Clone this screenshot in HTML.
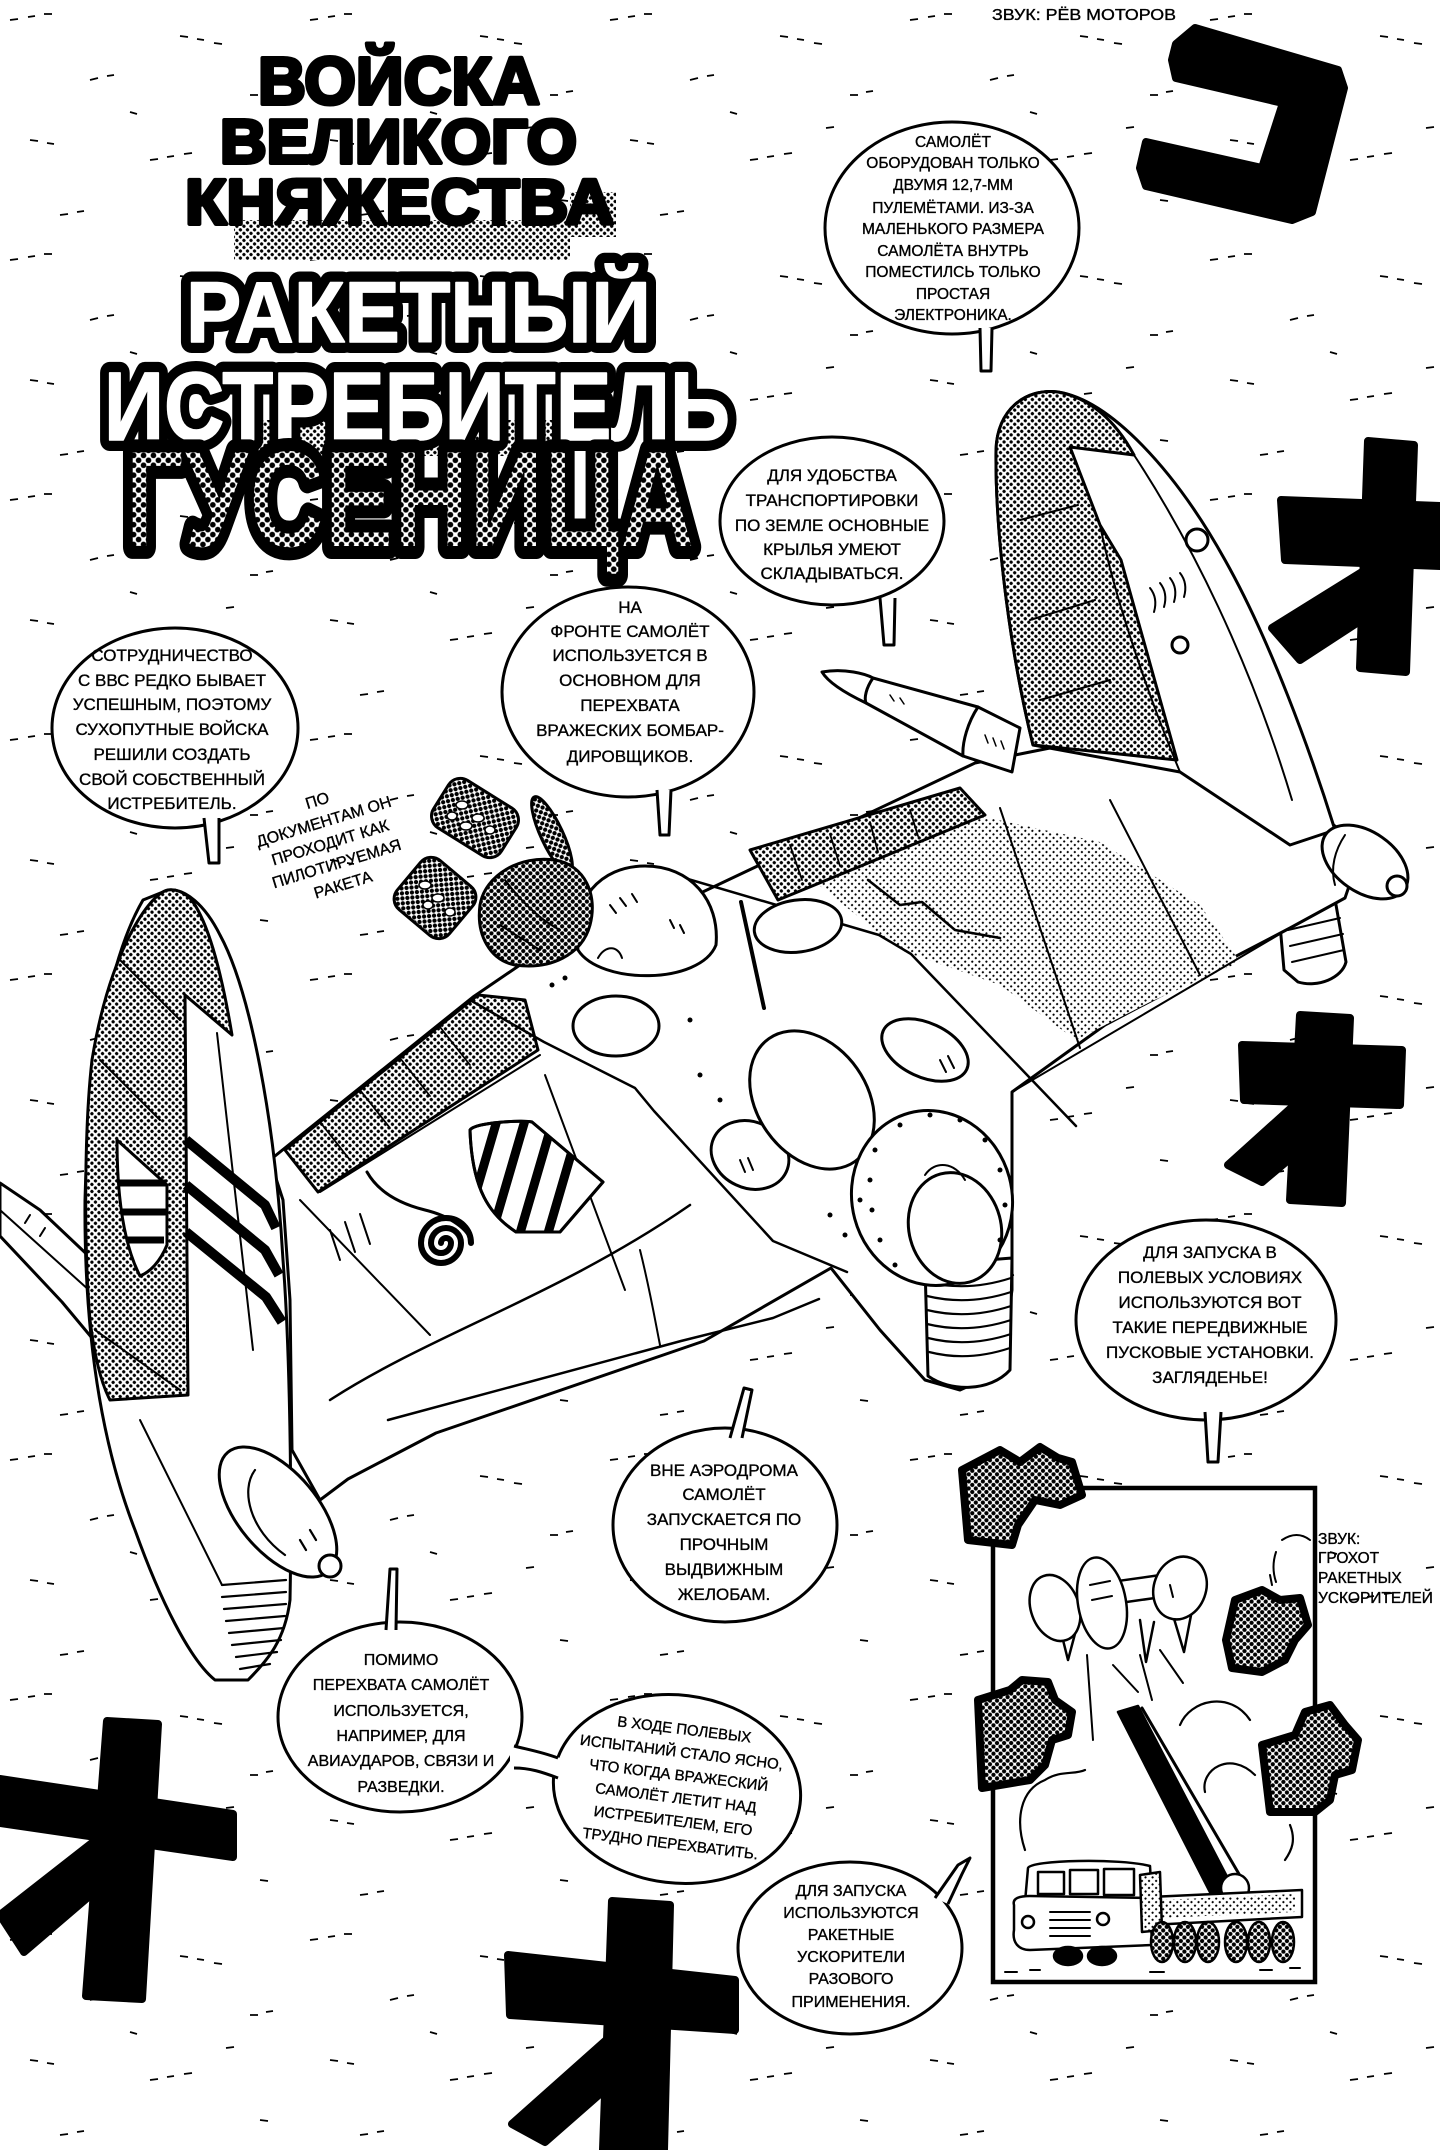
<!DOCTYPE html>
<html><head><meta charset="utf-8">
<style>
html,body{margin:0;padding:0;background:#fff}
body{width:1440px;height:2150px;overflow:hidden}
svg{display:block}
.b{font-family:"Liberation Sans","DejaVu Sans",sans-serif;font-size:17px;fill:#000;text-anchor:middle;stroke:#000;stroke-width:0.35px}
.t{font-family:"Liberation Sans","DejaVu Sans",sans-serif;font-weight:bold}
</style></head><body>
<svg width="1440" height="2150" viewBox="0 0 1440 2150" xmlns="http://www.w3.org/2000/svg">
<defs>
<pattern id="ht" width="5" height="5" patternUnits="userSpaceOnUse" patternTransform="rotate(45)"><rect width="5" height="5" fill="#fff"/><circle cx="2.5" cy="2.5" r="1.65" fill="#000"/></pattern>
<pattern id="htd" width="5" height="5" patternUnits="userSpaceOnUse" patternTransform="rotate(45)"><rect width="5" height="5" fill="#fff"/><circle cx="2.5" cy="2.5" r="2.15" fill="#000"/></pattern>
<pattern id="htl" width="5" height="5" patternUnits="userSpaceOnUse" patternTransform="rotate(45)"><rect width="5" height="5" fill="#fff"/><circle cx="2.5" cy="2.5" r="1.1" fill="#000"/></pattern>
<pattern id="htg" width="7" height="7" patternUnits="userSpaceOnUse" patternTransform="rotate(45)"><rect width="7" height="7" fill="#fff"/><circle cx="3.5" cy="3.5" r="2.85" fill="#000"/></pattern>
<pattern id="wind" width="300" height="240" patternUnits="userSpaceOnUse">
<path d="M10 20l8-1M28 17l7-1M44 14l8 0M180 36l8 1M197 39l7 1M214 43l8 1M90 80l8-2M107 76l7-1M250 95l8 0M266 92l7-1M30 140l8 1M47 143l7 1M150 160l8-1M167 157l7-1M184 154l8-1M260 200l8 1M60 215l8-1M77 212l7-1M130 112l7 2M226 128l8-1" stroke="#000" stroke-width="1.8" fill="none"/>
</pattern>
<clipPath id="shieldclip"><path d="M470,1130 C475,1122 525,1120 532,1122 L603,1182 L560,1232 L516,1232 C490,1215 472,1190 470,1130 Z"/></clipPath>
</defs>

<rect width="1440" height="2150" fill="#fff"/>
<rect width="1440" height="2150" fill="url(#wind)"/>

<!-- black katakana symbols -->
<g fill="#000" stroke="#000" stroke-width="8" stroke-linejoin="round">
<polygon points="1176,44 1195,28 1338,70 1344,88 1312,212 1292,220 1146,186 1140,168 1146,142 1262,168 1283,103 1176,78 1172,60"/>
<polygon points="1281,500 1440,506 1440,566 1285,560"/>
<polygon points="1368,441 1414,445 1406,672 1360,668"/>
<polygon points="1362,572 1392,600 1300,660 1272,628"/>
<polygon points="1300,1015 1350,1018 1342,1203 1290,1200"/>
<polygon points="1242,1045 1402,1050 1400,1105 1244,1100"/>
<polygon points="1300,1100 1330,1125 1262,1182 1228,1165"/>
<polygon points="107,1721 158,1724 142,1999 86,1996"/>
<polygon points="0,1779 233,1814 233,1857 0,1823"/>
<polygon points="92,1843 108,1880 24,1952 0,1915"/>
<polygon points="612,1901 670,1905 664,2150 603,2150"/>
<polygon points="508,1955 735,1980 735,2030 510,2015"/>
<polygon points="612,2035 618,2078 545,2142 512,2124"/>
</g>

<!-- PLANE -->
<g stroke="#000" stroke-width="3" stroke-linejoin="round" stroke-linecap="round" fill="#fff">
<path d="M1278,902 L1332,882 L1346,962 C1342,978 1318,988 1298,982 L1284,970 Z"/>
<path d="M1288,930 l52,-12 M1290,946 l53,-12 M1292,962 l52,-12" fill="none" stroke-width="2"/>
<!-- main silhouette -->
<path d="M270,1160 L473,997 L520,965 L580,935 L690,898 L975,763 L1080,742 L1180,770 L1330,822 L1362,848 L1345,898 L1290,928 L1200,975 L1105,1025 L1012,1092 L1012,1290 L1000,1372 L960,1390 L925,1380 L880,1330 L831,1268 L704,1341 L436,1433 L348,1479 L320,1500 L292,1450 L290,1300 L283,1200 Z"/>
<path fill="url(#htl)" stroke="none" d="M815,882 L975,815 L1100,842 L1200,905 L1240,962 L1150,1002 L1076,1040 L1000,985 L900,950 Z"/>
<!-- missile -->
<path d="M822,672 C845,668 866,674 873,678 L978,707 L1020,728 L1012,772 L963,756 L866,703 C845,693 828,682 822,672 Z"/>
<path d="M873,678 C866,688 864,698 866,703 M978,707 C968,722 962,742 963,756" fill="none"/>
<path d="M890,695 l4,6 M900,698 l4,6 M985,735 l3,8 M993,738 l3,8 M1001,741 l3,8" fill="none" stroke-width="1.5"/>
<!-- right folded wing -->
<path d="M1033,745 C1012,660 995,540 996,450 C997,410 1025,388 1058,392 C1110,400 1175,470 1225,560 C1270,640 1310,750 1335,830 L1290,845 L1180,772 Z"/>
<path fill="url(#ht)" d="M1033,745 C1012,660 995,540 996,450 C997,410 1025,388 1058,392 C1090,398 1115,420 1134,455 L1070,447 L1100,525 L1121,560 L1177,760 Z"/>
<path fill="none" stroke-width="2" d="M1134,455 C1190,540 1250,660 1292,800 M1100,525 C1115,600 1150,700 1180,772 M1020,520 L1078,505 M1030,620 L1095,600 M1040,700 L1110,680"/>
<path fill="none" stroke-width="2" d="M1150,588 q8,10 4,24 M1160,583 q8,10 4,24 M1170,578 q8,10 4,24 M1180,573 q8,10 4,24"/>
<circle cx="1197" cy="540" r="11"/>
<circle cx="1180" cy="645" r="8"/>
<ellipse cx="1365" cy="862" rx="48" ry="30" transform="rotate(35 1365 862)"/>
<circle cx="1397" cy="886" r="10"/>
<path d="M1345,835 C1335,850 1330,868 1335,885" fill="none" stroke-width="2"/>
<!-- flaps -->
<path fill="url(#ht)" d="M750,850 L960,788 L985,815 L778,900 Z"/>
<path fill="none" stroke-width="1.8" d="M790,845 l12,35 M830,834 l10,32 M870,822 l8,30 M910,810 l8,26"/>
<path fill="url(#ht)" d="M285,1150 L478,995 L525,1000 L538,1050 L318,1192 Z"/>
<path fill="none" stroke-width="1.8" d="M320,1122 l30,38 M360,1090 l30,38 M400,1058 l30,38 M440,1027 l30,38"/>
<!-- body lines -->
<path fill="none" stroke-width="2.5" d="M470,1000 L544,1042 L635,1088 L654,1111 L773,1241 L847,1272"/>
<path fill="none" stroke-width="2.5" d="M681,877 L879,935 L911,954 L1076,1126"/>
<path fill="none" stroke-width="2.5" d="M330,1400 C430,1335 560,1295 690,1205"/>
<path fill="none" stroke-width="2.5" d="M388,1420 L681,1341 L773,1318 L819,1299"/>
<path fill="none" stroke-width="2.5" d="M868,880 L900,905 L922,902 L955,930 L1000,938"/>
<path fill="none" stroke-width="2" d="M1000,808 L1080,1048 M1110,800 L1200,975 M1012,1092 L1290,928"/>
<path fill="none" stroke-width="2" d="M300,1200 L430,1335 M545,1075 L625,1290 M320,1192 L540,1055 M640,1250 C650,1290 655,1320 660,1345"/>
<path fill="none" stroke-width="4" d="M741,902 L764,1008"/>
<!-- inspection circles -->
<ellipse cx="798" cy="926" rx="44" ry="26" transform="rotate(-8 798 926)"/>
<ellipse cx="616" cy="1026" rx="43" ry="30"/>
<ellipse cx="925" cy="1050" rx="46" ry="27" transform="rotate(25 925 1050)"/>
<ellipse cx="750" cy="1155" rx="40" ry="33" transform="rotate(25 750 1155)"/>
<path fill="none" stroke-width="2" d="M940,1060 l6,12 M948,1056 l6,12 M740,1160 l5,12 M748,1158 l5,12"/>
<!-- cowl and nose -->
<ellipse cx="812" cy="1100" rx="55" ry="75" transform="rotate(-35 812 1100)"/>
<path d="M925,1265 L1012,1258 L1010,1370 C990,1392 950,1392 928,1376 Z"/>
<path fill="none" stroke-width="2.2" d="M927,1282 Q968,1292 1011,1278 M927,1296 Q968,1306 1011,1292 M927,1310 Q968,1320 1011,1306 M927,1324 Q968,1334 1011,1320 M928,1338 Q968,1348 1011,1334 M929,1352 Q968,1362 1010,1348"/>
<ellipse cx="932" cy="1198" rx="80" ry="88" transform="rotate(-15 932 1198)"/>
<ellipse cx="955" cy="1228" rx="46" ry="56" transform="rotate(-15 955 1228)"/>
<path fill="none" stroke-width="2" d="M925,1175 C935,1160 955,1162 965,1180"/>
<g fill="#000" stroke="none">
<circle cx="875" cy="1150" r="2.5"/><circle cx="870" cy="1180" r="2.5"/><circle cx="872" cy="1210" r="2.5"/><circle cx="880" cy="1240" r="2.5"/><circle cx="895" cy="1265" r="2.5"/><circle cx="900" cy="1125" r="2.5"/><circle cx="930" cy="1115" r="2.5"/><circle cx="960" cy="1120" r="2.5"/><circle cx="985" cy="1140" r="2.5"/><circle cx="1000" cy="1170" r="2.5"/><circle cx="1005" cy="1205" r="2.5"/><circle cx="1000" cy="1240" r="2.5"/>
<circle cx="552" cy="985" r="2.5"/><circle cx="565" cy="978" r="2.5"/><circle cx="700" cy="1075" r="2.5"/><circle cx="720" cy="1100" r="2.5"/><circle cx="690" cy="1020" r="2.5"/><circle cx="860" cy="1200" r="2.5"/><circle cx="845" cy="1235" r="2.5"/><circle cx="830" cy="1215" r="2.5"/>
</g>
<!-- dome -->
<path d="M578,950 C570,900 600,866 645,866 C690,866 720,900 716,945 C700,985 600,985 578,950 Z"/>
<path fill="none" stroke-width="2" d="M598,958 C605,945 618,945 622,958 M610,905 l6,8 M620,898 l6,8 M632,894 l5,8 M670,920 l4,8 M680,925 l4,8"/>
<!-- shield -->
<path d="M470,1130 C475,1122 525,1120 532,1122 L603,1182 L560,1232 L516,1232 C490,1215 472,1190 470,1130 Z"/>
<g clip-path="url(#shieldclip)" stroke-width="9" fill="none">
<path d="M500,1110 L462,1240 M528,1110 L490,1240 M556,1110 L518,1240 M584,1110 L546,1240"/>
</g>
<path d="M470,1130 C475,1122 525,1120 532,1122 L603,1182 L560,1232 L516,1232 C490,1215 472,1190 470,1130 Z" fill="none"/>
<!-- spiral -->
<path fill="none" stroke-width="6" d="M441,1243 a5,5 0 1,1 10,0 a10,10 0 1,1 -20,0 a15,15 0 1,1 30,0 a20,20 0 1,1 -40,0 a25,25 0 1,1 50,0"/>
<path fill="none" stroke-width="3" d="M367,1172 C380,1195 405,1205 425,1210 C450,1216 470,1230 471,1243"/>
<path fill="none" stroke-width="2" d="M330,1230 l10,30 M345,1222 l10,30 M360,1214 l10,30"/>
<!-- left pointed tip -->
<path d="M0,1183 L40,1210 L95,1262 L128,1310 L142,1352 L112,1362 L62,1302 L0,1236 Z"/>
<path fill="none" stroke-width="2" d="M0,1210 L100,1300 M30,1215 l-5,8 M45,1228 l-5,8"/>
<!-- left folded wing -->
<path d="M143,900 C108,960 88,1080 85,1200 C84,1330 100,1440 135,1530 C160,1600 190,1660 215,1680 L248,1680 C268,1660 285,1640 290,1600 C292,1500 290,1350 283,1260 C275,1120 250,990 220,935 C205,905 185,888 168,890 Z"/>
<path fill="url(#ht)" d="M168,890 C150,893 110,950 92,1060 C84,1130 84,1250 90,1320 C95,1360 102,1385 110,1400 L188,1395 L185,995 L232,1035 C222,975 208,920 190,898 C183,892 175,889 168,890 Z"/>
<path fill="none" stroke-width="2" d="M217,1033 L253,1350 M120,960 L180,1020 M100,1060 L160,1120 M95,1330 L180,1390"/>
<path fill="none" stroke-width="10" stroke-linecap="butt" d="M186,1140 L265,1205 L276,1228 M186,1185 L265,1250 L279,1275 M186,1232 L266,1297 L282,1322"/>
<path d="M117,1140 L167,1185 L167,1245 C160,1262 150,1272 140,1276 C124,1245 117,1200 117,1140 Z"/>
<path fill="none" stroke-width="7" stroke-linecap="butt" d="M119,1183 H166 M121,1212 H166 M127,1240 H164"/>
<path fill="none" stroke-width="2.2" d="M222,1585 L286,1580 M222,1597 L286,1592 M224,1609 L286,1604 M226,1621 L285,1616 M229,1633 L284,1628 M232,1645 L281,1640 M236,1657 L277,1652 M240,1669 L270,1664"/>
<path fill="none" stroke-width="2" d="M140,1420 C170,1480 200,1540 222,1585"/>
<ellipse cx="278" cy="1512" rx="78" ry="40" transform="rotate(50 278 1512)"/>
<path fill="none" stroke-width="2.2" d="M255,1470 C240,1490 250,1530 285,1555 M300,1540 l6,10 M310,1530 l6,10"/>
<circle cx="330" cy="1566" r="11"/>
<!-- pilot -->
<rect x="-40" y="-28" width="80" height="56" rx="14" fill="url(#htd)" transform="translate(475 818) rotate(32)"/>
<rect x="-34" y="-32" width="68" height="64" rx="14" fill="url(#htd)" transform="translate(435 898) rotate(40)"/>
<g fill="#fff" stroke-width="1.5">
<ellipse cx="462" cy="805" rx="6" ry="4"/><ellipse cx="478" cy="818" rx="6" ry="4"/><ellipse cx="466" cy="826" rx="6" ry="4"/><ellipse cx="490" cy="830" rx="5" ry="4"/><ellipse cx="452" cy="816" rx="5" ry="4"/>
<ellipse cx="425" cy="885" rx="6" ry="4"/><ellipse cx="438" cy="898" rx="6" ry="4"/><ellipse cx="428" cy="905" rx="5" ry="4"/><ellipse cx="450" cy="912" rx="5" ry="4"/>
</g>
<ellipse cx="552" cy="835" rx="11" ry="42" fill="url(#htd)" transform="rotate(-25 552 835)"/>
<path fill="url(#htd)" d="M480,905 C485,875 520,855 555,860 C585,865 598,895 590,925 C582,955 550,970 515,965 C490,960 476,935 480,905 Z"/>
<path fill="none" stroke-width="2" d="M505,880 C520,900 540,920 560,930 M500,925 L540,950"/>
</g>

<!-- PANEL -->
<rect x="993" y="1488" width="322" height="494" fill="#fff" stroke="#000" stroke-width="4.5"/>
<g stroke="#000" stroke-width="2.5" fill="#fff" stroke-linejoin="round" stroke-linecap="round">
<path d="M1060,1628 l8,32 l8,-30 M1140,1620 l6,42 l8,-40 M1172,1612 l12,40 l8,-42"/>
<ellipse cx="1055" cy="1608" rx="24" ry="34" transform="rotate(-20 1055 1608)"/>
<rect x="1110" y="1578" width="60" height="22" rx="6" transform="rotate(-8 1140 1589)"/>
<ellipse cx="1102" cy="1603" rx="24" ry="46" transform="rotate(-10 1102 1603)"/>
<ellipse cx="1180" cy="1588" rx="26" ry="32" transform="rotate(20 1180 1588)"/>
<path fill="none" stroke-width="2" d="M1090,1585 l20,-4 M1092,1600 l20,-4 M1170,1585 l3,12"/>
<path fill="none" stroke-width="2" d="M1087,1655 L1093,1740 M1140,1655 L1152,1700 M1160,1650 L1183,1683 M1113,1665 L1138,1692"/>
<path fill="none" stroke-width="2" d="M1282,1540 q15,-10 28,0 M1276,1552 q-5,15 0,30 M1270,1575 l2,10"/>
<path fill="none" stroke-width="2.2" d="M1025,1850 C1015,1820 1020,1790 1045,1780 C1060,1770 1075,1775 1085,1770 M1180,1725 C1190,1700 1230,1690 1250,1720 M1205,1792 C1200,1770 1230,1750 1255,1775 M1290,1825 C1296,1840 1292,1850 1285,1860"/>
<path fill="#000" d="M1118,1712 L1138,1706 L1235,1892 L1214,1900 Z"/>
<path fill="none" stroke-width="3" d="M1142,1708 L1246,1886"/>
<circle cx="1235" cy="1888" r="14"/>
<path d="M1150,1897 L1302,1890 L1302,1917 L1150,1925 Z"/>
<path fill="url(#htl)" stroke="none" d="M1160,1900 L1295,1894 L1295,1912 L1160,1918 Z"/>
<path d="M1028,1868 C1030,1860 1120,1858 1150,1866 L1152,1900 L1025,1902 Z"/>
<path d="M1038,1872 h26 v22 h-26 Z M1070,1870 h28 v24 h-28 Z M1104,1869 h30 v26 h-30 Z"/>
<path d="M1014,1905 C1012,1898 1020,1896 1030,1896 L1150,1898 L1152,1945 L1030,1950 C1018,1950 1012,1942 1014,1930 Z"/>
<circle cx="1028" cy="1922" r="6"/><circle cx="1103" cy="1919" r="6"/>
<path fill="none" stroke-width="2" d="M1050,1912 h40 M1050,1920 h40 M1050,1928 h40 M1050,1936 h40"/>
<path d="M1140,1875 L1160,1872 L1162,1930 L1142,1932 Z" fill="url(#htl)"/>
<g fill="url(#htd)">
<ellipse cx="1162" cy="1942" rx="11" ry="20"/><ellipse cx="1185" cy="1942" rx="11" ry="20"/><ellipse cx="1208" cy="1942" rx="11" ry="20"/><ellipse cx="1236" cy="1942" rx="11" ry="20"/><ellipse cx="1259" cy="1942" rx="11" ry="20"/><ellipse cx="1283" cy="1942" rx="11" ry="20"/>
</g>
<ellipse cx="1068" cy="1956" rx="14" ry="9" fill="#000"/><ellipse cx="1102" cy="1956" rx="14" ry="9" fill="#000"/>
<path fill="none" stroke-width="2" d="M1005,1972 h12 M1030,1970 h10 M1150,1972 h14 M1260,1970 h12 M1290,1968 h10"/>
</g>

<!-- smoke blobs -->
<g stroke="#000" stroke-width="8" stroke-linejoin="round" fill="url(#htd)">
<path d="M962,1470 L1000,1450 L1020,1462 L1040,1447 L1058,1458 L1072,1462 L1082,1495 L1060,1505 L1035,1500 L1018,1525 L1012,1545 L968,1540 Z"/>
<path d="M1235,1600 L1262,1590 L1280,1600 L1300,1598 L1308,1625 L1295,1640 L1285,1660 L1262,1672 L1232,1668 L1226,1640 Z"/>
<path d="M978,1700 L1010,1690 L1022,1680 L1048,1682 L1055,1700 L1072,1712 L1068,1735 L1052,1740 L1045,1765 L1030,1780 L982,1788 Z"/>
<path d="M1262,1745 L1295,1735 L1305,1712 L1330,1705 L1345,1725 L1358,1740 L1352,1770 L1335,1775 L1330,1800 L1315,1812 L1270,1812 Z"/>
</g>

<!-- BUBBLES -->
<g stroke="#000" stroke-width="3" fill="#fff" stroke-linejoin="round">
<ellipse cx="952" cy="228" rx="127" ry="106"/>
<path d="M980,328 L981,371 L991,371 L992,328"/>
<ellipse cx="832" cy="521" rx="112" ry="84"/>
<path d="M880,598 L884,645 L894,645 L895,598"/>
<ellipse cx="628" cy="692" rx="126" ry="105"/>
<path d="M657,790 L660,835 L669,835 L671,790"/>
<ellipse cx="175" cy="728" rx="123" ry="100"/>
<path d="M204,818 L209,863 L219,863 L219,818"/>
<ellipse cx="1206" cy="1320" rx="130" ry="100"/>
<path d="M1205,1412 L1208,1462 L1218,1462 L1221,1412"/>
<ellipse cx="725" cy="1525" rx="112" ry="97"/>
<path d="M730,1438 L744,1388 L752,1390 L742,1438"/>
<ellipse cx="400" cy="1717" rx="122" ry="95"/>
<path d="M386,1630 L390,1569 L397,1569 L396,1630"/>
<ellipse cx="677" cy="1789" rx="124" ry="94" transform="rotate(7 677 1789)"/>
<path d="M510,1745 C528,1750 540,1752 560,1758 L560,1778 C540,1772 528,1768 510,1768" stroke="none"/>
<path d="M514,1746 C530,1750 542,1752 558,1758 M514,1768 C530,1768 542,1772 558,1778" fill="none"/>
<ellipse cx="850" cy="1948" rx="112" ry="86"/>
<path d="M935,1898 L958,1865 L970,1858 L962,1874 L948,1904"/>
</g>

<!-- bubble texts -->
<text x="953" y="147" class="b" style="font-size:15.5px">САМОЛЁТ</text>
<text x="953" y="168" class="b" style="font-size:15.5px">ОБОРУДОВАН ТОЛЬКО</text>
<text x="953" y="190" class="b" style="font-size:15.5px">ДВУМЯ 12,7-ММ</text>
<text x="953" y="213" class="b" style="font-size:15.5px">ПУЛЕМЁТАМИ. ИЗ-ЗА</text>
<text x="953" y="234" class="b" style="font-size:15.5px">МАЛЕНЬКОГО РАЗМЕРА</text>
<text x="953" y="256" class="b" style="font-size:15.5px">САМОЛЁТА ВНУТРЬ</text>
<text x="953" y="277" class="b" style="font-size:15.5px">ПОМЕСТИЛСЬ ТОЛЬКО</text>
<text x="953" y="299" class="b" style="font-size:15.5px">ПРОСТАЯ</text>
<text x="953" y="320" class="b" style="font-size:15.5px">ЭЛЕКТРОНИКА.</text>

<text x="832" y="481" class="b">ДЛЯ УДОБСТВА</text>
<text x="832" y="506" class="b">ТРАНСПОРТИРОВКИ</text>
<text x="832" y="531" class="b">ПО ЗЕМЛЕ ОСНОВНЫЕ</text>
<text x="832" y="555" class="b">КРЫЛЬЯ УМЕЮТ</text>
<text x="832" y="579" class="b">СКЛАДЫВАТЬСЯ.</text>

<text x="630" y="613" class="b">НА</text>
<text x="630" y="637" class="b">ФРОНТЕ САМОЛЁТ</text>
<text x="630" y="661" class="b">ИСПОЛЬЗУЕТСЯ В</text>
<text x="630" y="686" class="b">ОСНОВНОМ ДЛЯ</text>
<text x="630" y="711" class="b">ПЕРЕХВАТА</text>
<text x="630" y="736" class="b">ВРАЖЕСКИХ БОМБАР-</text>
<text x="630" y="762" class="b">ДИРОВЩИКОВ.</text>

<text x="172" y="661" class="b">СОТРУДНИЧЕСТВО</text>
<text x="172" y="686" class="b">С ВВС РЕДКО БЫВАЕТ</text>
<text x="172" y="710" class="b">УСПЕШНЫМ, ПОЭТОМУ</text>
<text x="172" y="735" class="b">СУХОПУТНЫЕ ВОЙСКА</text>
<text x="172" y="760" class="b">РЕШИЛИ СОЗДАТЬ</text>
<text x="172" y="785" class="b">СВОЙ СОБСТВЕННЫЙ</text>
<text x="172" y="809" class="b">ИСТРЕБИТЕЛЬ.</text>

<g transform="rotate(-17 330 842)">
<text x="330" y="804" class="b" style="font-size:16px">ПО</text>
<text x="330" y="826" class="b" style="font-size:16px">ДОКУМЕНТАМ ОН</text>
<text x="330" y="848" class="b" style="font-size:16px">ПРОХОДИТ КАК</text>
<text x="330" y="870" class="b" style="font-size:16px">ПИЛОТИРУЕМАЯ</text>
<text x="330" y="892" class="b" style="font-size:16px">РАКЕТА</text>
</g>

<text x="1210" y="1258" class="b">ДЛЯ ЗАПУСКА В</text>
<text x="1210" y="1283" class="b">ПОЛЕВЫХ УСЛОВИЯХ</text>
<text x="1210" y="1308" class="b">ИСПОЛЬЗУЮТСЯ ВОТ</text>
<text x="1210" y="1333" class="b">ТАКИЕ ПЕРЕДВИЖНЫЕ</text>
<text x="1210" y="1358" class="b">ПУСКОВЫЕ УСТАНОВКИ.</text>
<text x="1210" y="1383" class="b">ЗАГЛЯДЕНЬЕ!</text>

<text x="724" y="1476" class="b">ВНЕ АЭРОДРОМА</text>
<text x="724" y="1500" class="b">САМОЛЁТ</text>
<text x="724" y="1525" class="b">ЗАПУСКАЕТСЯ ПО</text>
<text x="724" y="1550" class="b">ПРОЧНЫМ</text>
<text x="724" y="1575" class="b">ВЫДВИЖНЫМ</text>
<text x="724" y="1600" class="b">ЖЕЛОБАМ.</text>

<text x="401" y="1665" class="b" style="font-size:16px">ПОМИМО</text>
<text x="401" y="1690" class="b" style="font-size:16px">ПЕРЕХВАТА САМОЛЁТ</text>
<text x="401" y="1716" class="b" style="font-size:16px">ИСПОЛЬЗУЕТСЯ,</text>
<text x="401" y="1741" class="b" style="font-size:16px">НАПРИМЕР, ДЛЯ</text>
<text x="401" y="1766" class="b" style="font-size:16px">АВИАУДАРОВ, СВЯЗИ И</text>
<text x="401" y="1792" class="b" style="font-size:16px">РАЗВЕДКИ.</text>

<g transform="rotate(7 677 1789)">
<text x="677" y="1734" class="b" style="font-size:15px">В ХОДЕ ПОЛЕВЫХ</text>
<text x="677" y="1757" class="b" style="font-size:15px">ИСПЫТАНИЙ СТАЛО ЯСНО,</text>
<text x="677" y="1780" class="b" style="font-size:15px">ЧТО КОГДА ВРАЖЕСКИЙ</text>
<text x="677" y="1803" class="b" style="font-size:15px">САМОЛЁТ ЛЕТИТ НАД</text>
<text x="677" y="1826" class="b" style="font-size:15px">ИСТРЕБИТЕЛЕМ, ЕГО</text>
<text x="677" y="1849" class="b" style="font-size:15px">ТРУДНО ПЕРЕХВАТИТЬ.</text>
</g>

<text x="851" y="1896" class="b" style="font-size:16px">ДЛЯ ЗАПУСКА</text>
<text x="851" y="1918" class="b" style="font-size:16px">ИСПОЛЬЗУЮТСЯ</text>
<text x="851" y="1940" class="b" style="font-size:16px">РАКЕТНЫЕ</text>
<text x="851" y="1962" class="b" style="font-size:16px">УСКОРИТЕЛИ</text>
<text x="851" y="1984" class="b" style="font-size:16px">РАЗОВОГО</text>
<text x="851" y="2007" class="b" style="font-size:16px">ПРИМЕНЕНИЯ.</text>

<!-- SFX captions -->
<text x="992" y="20" class="b" style="font-size:15.5px;text-anchor:start" textLength="184" lengthAdjust="spacingAndGlyphs">ЗВУК: РЁВ МОТОРОВ</text>
<text x="1318" y="1544" class="b" style="font-size:15.5px;text-anchor:start">ЗВУК:</text>
<text x="1318" y="1563" class="b" style="font-size:15.5px;text-anchor:start">ГРОХОТ</text>
<text x="1318" y="1583" class="b" style="font-size:15.5px;text-anchor:start">РАКЕТНЫХ</text>
<text x="1318" y="1603" class="b" style="font-size:15.5px;text-anchor:start">УСКОРИТЕЛЕЙ</text>

<!-- TITLE -->
<rect x="234" y="220" width="336" height="40" fill="url(#ht)"/>
<rect x="570" y="192" width="46" height="45" fill="url(#ht)"/>
<rect x="244" y="420" width="323" height="36" fill="url(#ht)"/>
<g class="t" fill="#000" stroke="#000" stroke-width="4" stroke-linejoin="round">
<text x="258" y="104" font-size="67" textLength="282" lengthAdjust="spacingAndGlyphs">ВОЙСКА</text>
<text x="220" y="163" font-size="62" textLength="357" lengthAdjust="spacingAndGlyphs">ВЕЛИКОГО</text>
<text x="185" y="224" font-size="64" textLength="429" lengthAdjust="spacingAndGlyphs">КНЯЖЕСТВА</text>
</g>
<g class="t" stroke-linejoin="round">
<text x="186" y="342" font-size="86" textLength="465" lengthAdjust="spacingAndGlyphs" fill="#000" stroke="#000" stroke-width="22">РАКЕТНЫЙ</text>
<text x="186" y="342" font-size="86" textLength="465" lengthAdjust="spacingAndGlyphs" fill="#fff" stroke="#fff" stroke-width="1.5">РАКЕТНЫЙ</text>
<text x="104" y="440" font-size="97" textLength="626" lengthAdjust="spacingAndGlyphs" fill="#000" stroke="#000" stroke-width="22">ИСТРЕБИТЕЛЬ</text>
<text x="104" y="440" font-size="97" textLength="626" lengthAdjust="spacingAndGlyphs" fill="#fff" stroke="#fff" stroke-width="1.5">ИСТРЕБИТЕЛЬ</text>
<text x="125" y="547" font-size="139" textLength="570" lengthAdjust="spacingAndGlyphs" fill="#000" stroke="#000" stroke-width="24">ГУСЕНИЦА</text>
<text x="125" y="547" font-size="139" textLength="570" lengthAdjust="spacingAndGlyphs" fill="url(#htg)" stroke="#000" stroke-width="2">ГУСЕНИЦА</text>
</g>
</svg>
</body></html>
